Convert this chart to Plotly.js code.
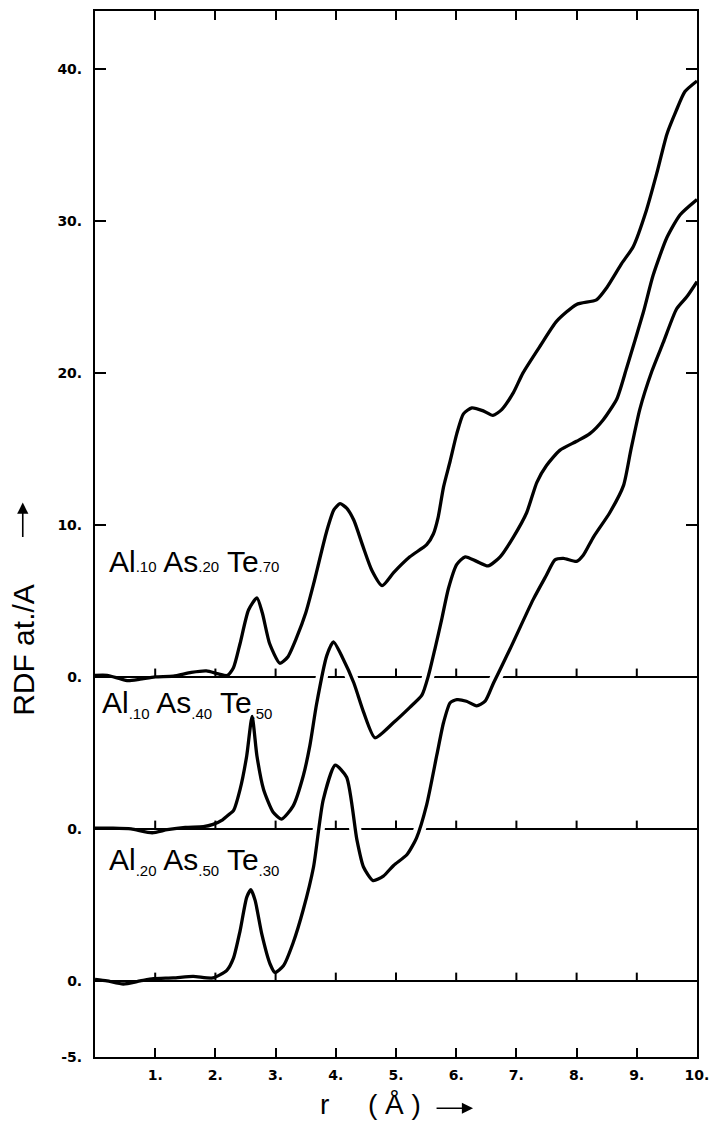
<!DOCTYPE html>
<html>
<head>
<meta charset="utf-8">
<script src="https://cdn.plot.ly/plotly-3.0.1.min.js"></script>
<style>html,body{margin:0;padding:0;background:#fff;}#chart{width:709px;height:1121px;}</style>
</head>
<body>
<div id="chart"></div>
<script>
// ---- data (RDF relative to each curve's own zero line) ----
const rTop = [0, 0.2, 0.4, 0.55, 0.75, 1.0, 1.3, 1.6, 1.85, 2.05, 2.2, 2.3, 2.41, 2.55, 2.69, 2.78, 2.9, 3.07, 3.2, 3.35, 3.5, 3.63, 3.85, 3.97, 4.07, 4.18, 4.3, 4.45, 4.6, 4.77, 4.96, 5.23, 5.51, 5.62, 5.7, 5.79, 5.9, 6.01, 6.12, 6.26, 6.45, 6.61, 6.76, 6.95, 7.11, 7.4, 7.67, 8.0, 8.33, 8.5, 8.75, 8.94, 9.16, 9.33, 9.5, 9.65, 9.8, 10.0];
const rdfTop = [0.1, 0.1, -0.1, -0.25, -0.15, 0.0, 0.05, 0.3, 0.4, 0.2, 0.1, 0.6, 2.2, 4.4, 5.2, 4.2, 2.2, 0.9, 1.3, 2.6, 4.2, 6.1, 9.6, 11.0, 11.4, 11.1, 10.3, 8.6, 7.0, 6.0, 6.86, 7.9, 8.7, 9.4, 10.5, 12.5, 14.2, 16.0, 17.3, 17.7, 17.5, 17.2, 17.6, 18.7, 20.0, 21.8, 23.4, 24.5, 24.8, 25.6, 27.2, 28.3, 30.7, 33.1, 35.7, 37.2, 38.5, 39.2];

const rMid = [0, 0.3, 0.6, 0.95, 1.2, 1.5, 1.8, 1.96, 2.12, 2.24, 2.3, 2.41, 2.52, 2.61, 2.69, 2.8, 2.96, 3.1, 3.29, 3.46, 3.57, 3.68, 3.85, 3.96, 4.12, 4.3, 4.46, 4.65, 4.96, 5.23, 5.43, 5.54, 5.65, 5.76, 5.87, 6.01, 6.15, 6.34, 6.53, 6.73, 6.95, 7.17, 7.34, 7.5, 7.72, 8.0, 8.22, 8.44, 8.67, 8.83, 9.11, 9.27, 9.5, 9.72, 10.0];
const rdfMid = [0.05, 0.05, 0.0, -0.25, -0.05, 0.1, 0.15, 0.3, 0.6, 1.0, 1.2, 2.6, 4.8, 7.4, 4.8, 2.6, 1.1, 0.65, 1.5, 3.5, 5.5, 8.2, 11.4, 12.3, 11.2, 9.6, 7.7, 6.0, 7.0, 8.0, 8.8, 10.1, 11.9, 13.8, 15.8, 17.4, 17.9, 17.6, 17.3, 17.9, 19.2, 20.8, 22.8, 23.9, 24.9, 25.5, 26.0, 26.9, 28.3, 30.3, 34.0, 36.4, 38.9, 40.4, 41.4];

const rBot = [0, 0.2, 0.47, 0.75, 0.97, 1.3, 1.63, 1.96, 2.19, 2.3, 2.41, 2.52, 2.59, 2.66, 2.77, 2.91, 2.99, 3.13, 3.29, 3.46, 3.63, 3.79, 3.99, 4.18, 4.35, 4.46, 4.62, 4.79, 4.96, 5.18, 5.34, 5.51, 5.68, 5.79, 5.9, 6.01, 6.17, 6.34, 6.48, 6.62, 6.89, 7.28, 7.5, 7.64, 7.78, 8.0, 8.11, 8.28, 8.55, 8.78, 8.9, 9.05, 9.25, 9.44, 9.66, 9.83, 10.0];
const rdfBot = [0.1, 0.0, -0.2, 0.0, 0.15, 0.2, 0.3, 0.2, 0.7, 1.5, 3.3, 5.5, 6.0, 5.3, 3.1, 1.1, 0.56, 1.0, 2.5, 4.7, 7.5, 11.9, 14.2, 13.4, 9.3, 7.5, 6.6, 6.9, 7.6, 8.3, 9.4, 11.6, 14.9, 17.0, 18.3, 18.5, 18.4, 18.1, 18.4, 19.6, 21.8, 25.1, 26.7, 27.7, 27.8, 27.6, 28.0, 29.2, 30.8, 32.6, 34.9, 37.6, 40.1, 42.0, 44.2, 45.0, 46.0];

// vertical offsets of the three curves (each drawn on its own zero line)
const offTop = 20, offMid = 10, offBot = 0;

const labelTop = 'Al<span style="font-size:15px">.10</span> As<span style="font-size:15px">.20</span> Te<span style="font-size:15px">.70</span>';
const labelMid = 'Al<sub><span style="font-size:15px">.10</span></sub> As<sub><span style="font-size:15px">.40</span></sub> Te<sub><span style="font-size:15px">.50</span></sub>';
const labelBot = 'Al<sub><span style="font-size:15px">.20</span></sub> As<sub><span style="font-size:15px">.50</span></sub> Te<sub><span style="font-size:15px">.30</span></sub>';

const xTickVals = [1, 2, 3, 4, 5, 6, 7, 8, 9, 10];
const xTickText = ['1.', '2.', '3.', '4.', '5.', '6.', '7.', '8.', '9.', '10.'];
const yTickVals = [-5, 0, 10, 20, 30, 40, 50, 60];
const yTickText = ['-5.', '0.', '0.', '0.', '10.', '20.', '30.', '40.'];
const baseTickR = [1, 2, 3, 4, 5, 6, 7, 8, 9];

// ---- build traces ----
const X_RANGE = [0, 10];
const Y_RANGE = [-5, 63.8];
const BASE_TICK_LEN = 0.55;

function shift(arr, off) { return arr.map(v => v + off); }
function baseline(off) {
  return [
    {x: X_RANGE, y: [off, off], mode: 'lines', line: {color: '#000', width: 2}, hoverinfo: 'skip'},
    {x: baseTickR, y: baseTickR.map(() => off), mode: 'markers',
     marker: {size: 1, color: 'rgba(0,0,0,0)'}, hoverinfo: 'skip',
     error_y: {type: 'data', symmetric: false, array: baseTickR.map(() => BASE_TICK_LEN),
               arrayminus: baseTickR.map(() => 0), width: 0, thickness: 2, color: '#000'}}
  ];
}
function halo(r, rdf, off) {
  const xs = [], ys = [];
  r.forEach((v, i) => { if (v >= 3.3) { xs.push(v); ys.push(rdf[i] + off); } });
  return {x: xs, y: ys, mode: 'lines', line: {color: '#fff', width: 12, shape: 'spline', smoothing: 0.6}, hoverinfo: 'skip'};
}
function curve(r, rdf, off) {
  return {x: r, y: shift(rdf, off), mode: 'lines',
          line: {color: '#000', width: 3.3, shape: 'spline', smoothing: 0.6}, hoverinfo: 'skip'};
}

const traces = [
  ...baseline(offTop), ...baseline(offMid), ...baseline(offBot),
  halo(rMid, rdfMid, offMid), halo(rBot, rdfBot, offBot),
  curve(rTop, rdfTop, offTop), curve(rMid, rdfMid, offMid), curve(rBot, rdfBot, offBot)
];

const tickFont = {family: 'DejaVu Sans', size: 14, color: '#000', weight: 'bold'};
const textFont = {family: 'Liberation Sans', size: 30, color: '#000'};
const axTitleFont = {family: 'Liberation Sans', size: 28, color: '#000'};

const layout = {
  width: 709, height: 1121,
  margin: {l: 95, r: 12, t: 11, b: 64},
  paper_bgcolor: '#fff', plot_bgcolor: '#fff',
  showlegend: false,
  xaxis: {range: X_RANGE, tickvals: xTickVals, ticktext: xTickText, ticks: 'inside', ticklen: 9,
          tickwidth: 2, tickcolor: '#000', showline: true, linewidth: 2, linecolor: '#000',
          mirror: 'ticks', showgrid: false, zeroline: false, tickfont: tickFont, ticklabelstandoff: 4,
          ticklabeloverflow: 'allow', fixedrange: true},
  yaxis: {range: Y_RANGE, tickvals: yTickVals, ticktext: yTickText, ticks: 'inside', ticklen: 11,
          tickwidth: 2, tickcolor: '#000', showline: true, linewidth: 2, linecolor: '#000',
          mirror: 'ticks', showgrid: false, zeroline: false, tickfont: tickFont, ticklabelstandoff: 8,
          ticklabeloverflow: 'allow', fixedrange: true},
  annotations: [
    {xref: 'paper', yref: 'paper', x: 0.02, y: 0.474, xanchor: 'left', yanchor: 'middle',
     text: labelTop, showarrow: false, font: textFont},
    {xref: 'paper', yref: 'paper', x: 0.008, y: 0.337, xanchor: 'left', yanchor: 'middle',
     text: labelMid, showarrow: false, font: textFont},
    {xref: 'paper', yref: 'paper', x: 0.02, y: 0.187, xanchor: 'left', yanchor: 'middle',
     text: labelBot, showarrow: false, font: textFont},
    {xref: 'paper', yref: 'paper', x: -0.12, y: 0.389, xanchor: 'center', yanchor: 'middle',
     text: 'RDF at./A', textangle: -90, showarrow: false, font: textFont},
    {xref: 'paper', yref: 'paper', x: -0.12, y: 0.53, text: '', showarrow: true,
     ax: 0, ay: 36, arrowhead: 2, arrowsize: 1.4, arrowwidth: 1.6, arrowcolor: '#000'},
    {xref: 'paper', yref: 'paper', x: 0.382, y: -0.045, xanchor: 'center', yanchor: 'middle',
     text: 'r', showarrow: false, font: axTitleFont},
    {xref: 'paper', yref: 'paper', x: 0.497, y: -0.045, xanchor: 'center', yanchor: 'middle',
     text: '( Å )', showarrow: false, font: axTitleFont},
    {xref: 'paper', yref: 'paper', x: 0.628, y: -0.049, text: '', showarrow: true,
     ax: -38, ay: 0, arrowhead: 2, arrowsize: 1.4, arrowwidth: 1.6, arrowcolor: '#000'}
  ]
};

Plotly.newPlot('chart', traces, layout, {staticPlot: true, displayModeBar: false});
</script>
</body>
</html>
